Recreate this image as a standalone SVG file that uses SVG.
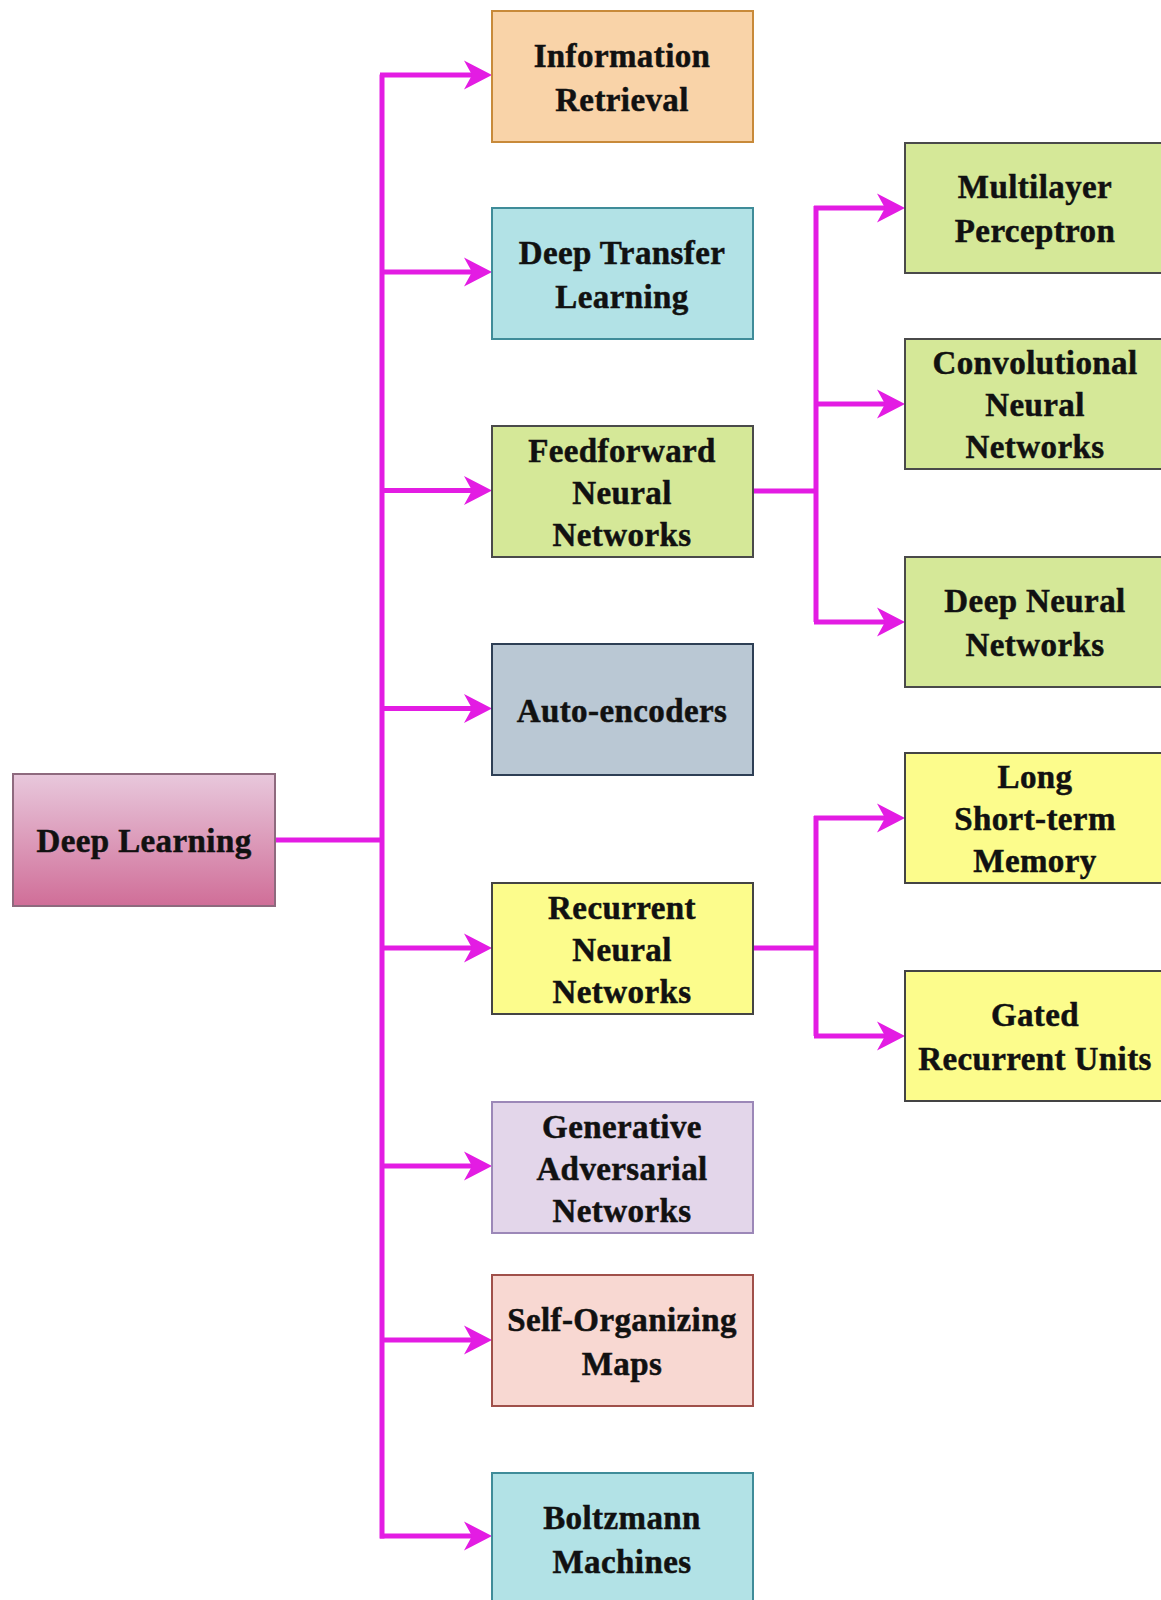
<svg xmlns="http://www.w3.org/2000/svg" width="1161" height="1600" viewBox="0 0 1161 1600">
<defs>
<linearGradient id="gDL" x1="0" y1="0" x2="0" y2="1">
<stop offset="0" stop-color="#E8C8DC"/>
<stop offset="1" stop-color="#D06E98"/>
</linearGradient>
<marker id="ah" markerUnits="userSpaceOnUse" viewBox="0 0 28 32" refX="18" refY="16" markerWidth="28" markerHeight="32" orient="auto">
<path d="M0,1.5 L28,16 L0,30.5 L8,16 Z" fill="#E31CE3"/>
</marker>
</defs>
<style>
.c{fill:none;stroke:#E31CE3;stroke-width:5}
.a{marker-end:url(#ah)}
.n{stroke-width:2}
text{font-family:"Liberation Serif","Times New Roman",serif;font-weight:bold;font-size:33px;fill:#111;stroke:#111;stroke-width:0.5px;text-anchor:middle;letter-spacing:0.4px}
</style>
<rect width="1161" height="1600" fill="#ffffff"/>
<g id="connectors">
<path class="c" d="M382,74.5 V1538.5"/>
<path class="c" d="M275,840 H384"/>
<path class="c a" d="M380,75 H482"/>
<path class="c a" d="M380,272 H482"/>
<path class="c a" d="M380,490.5 H482"/>
<path class="c a" d="M380,708.5 H482"/>
<path class="c a" d="M380,948 H482"/>
<path class="c a" d="M380,1166 H482"/>
<path class="c a" d="M380,1340 H482"/>
<path class="c a" d="M380,1536 H482"/>
<path class="c" d="M753,491 H818"/>
<path class="c" d="M816,206 V622"/>
<path class="c a" d="M814,208 H895"/>
<path class="c a" d="M814,404 H895"/>
<path class="c a" d="M814,622 H895"/>
<path class="c" d="M753,948 H818"/>
<path class="c" d="M816,816 V1036"/>
<path class="c a" d="M814,818 H895"/>
<path class="c a" d="M814,1036 H895"/>
</g>
<g id="deep-learning">
<rect class="n" x="13" y="774" width="262" height="132" fill="url(#gDL)" stroke="#8E6A7E"/>
<text x="144" y="852">Deep Learning</text>
</g>
<g id="information-retrieval">
<rect class="n" x="492" y="11" width="261" height="131" fill="#F9D3A8" stroke="#C88A3A"/>
<text x="622" y="66.5">Information</text>
<text x="622" y="110.5">Retrieval</text>
</g>
<g id="deep-transfer-learning">
<rect class="n" x="492" y="208" width="261" height="131" fill="#B2E2E6" stroke="#3F8C99"/>
<text x="622" y="263.5">Deep Transfer</text>
<text x="622" y="307.5">Learning</text>
</g>
<g id="feedforward-neural-networks">
<rect class="n" x="492" y="426" width="261" height="131" fill="#D5E898" stroke="#4A4A4A"/>
<text x="622" y="461.5">Feedforward</text>
<text x="622" y="503.5">Neural</text>
<text x="622" y="545.5">Networks</text>
</g>
<g id="auto-encoders">
<rect class="n" x="492" y="644" width="261" height="131" fill="#BAC8D4" stroke="#2E3F55"/>
<text x="622" y="721.5">Auto-encoders</text>
</g>
<g id="recurrent-neural-networks">
<rect class="n" x="492" y="883" width="261" height="131" fill="#FCFC8C" stroke="#444444"/>
<text x="622" y="918.5">Recurrent</text>
<text x="622" y="960.5">Neural</text>
<text x="622" y="1002.5">Networks</text>
</g>
<g id="generative-adversarial-networks">
<rect class="n" x="492" y="1102" width="261" height="131" fill="#E3D6EA" stroke="#9C88B8"/>
<text x="622" y="1137.5">Generative</text>
<text x="622" y="1179.5">Adversarial</text>
<text x="622" y="1221.5">Networks</text>
</g>
<g id="self-organizing-maps">
<rect class="n" x="492" y="1275" width="261" height="131" fill="#F8D8D2" stroke="#A0504A"/>
<text x="622" y="1330.5">Self-Organizing</text>
<text x="622" y="1374.5">Maps</text>
</g>
<g id="boltzmann-machines">
<rect class="n" x="492" y="1473" width="261" height="140" fill="#B2E2E6" stroke="#3F8C99"/>
<text x="622" y="1528.5">Boltzmann</text>
<text x="622" y="1572.5">Machines</text>
</g>
<g id="multilayer-perceptron">
<rect class="n" x="905" y="143" width="262" height="130" fill="#D5E898" stroke="#4A4A4A"/>
<text x="1035" y="198">Multilayer</text>
<text x="1035" y="242">Perceptron</text>
</g>
<g id="convolutional-neural-networks">
<rect class="n" x="905" y="339" width="262" height="130" fill="#D5E898" stroke="#4A4A4A"/>
<text x="1035" y="374">Convolutional</text>
<text x="1035" y="416">Neural</text>
<text x="1035" y="458">Networks</text>
</g>
<g id="deep-neural-networks">
<rect class="n" x="905" y="557" width="262" height="130" fill="#D5E898" stroke="#4A4A4A"/>
<text x="1035" y="612">Deep Neural</text>
<text x="1035" y="656">Networks</text>
</g>
<g id="long-short-term-memory">
<rect class="n" x="905" y="753" width="262" height="130" fill="#FCFC8C" stroke="#444444"/>
<text x="1035" y="788">Long</text>
<text x="1035" y="830">Short-term</text>
<text x="1035" y="872">Memory</text>
</g>
<g id="gated-recurrent-units">
<rect class="n" x="905" y="971" width="262" height="130" fill="#FCFC8C" stroke="#444444"/>
<text x="1035" y="1026">Gated</text>
<text x="1035" y="1070">Recurrent Units</text>
</g>
</svg>
